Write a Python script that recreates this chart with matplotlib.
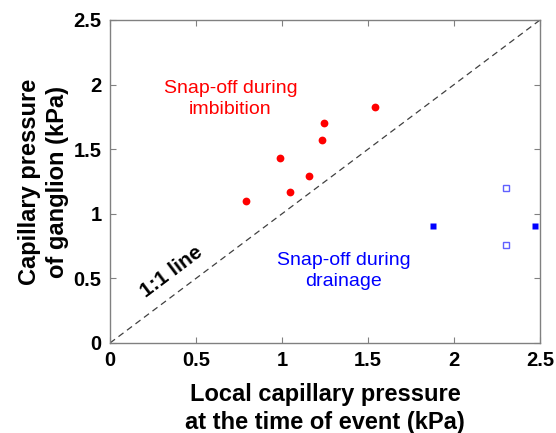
import matplotlib
matplotlib.use("Agg")
import matplotlib.pyplot as plt
import numpy as np

plt.rcParams['font.family'] = ['Liberation Sans', 'DejaVu Sans']

# Data
imb_x = [0.79, 0.99, 1.045, 1.155, 1.235, 1.245, 1.54]
imb_y = [1.10, 1.43, 1.17, 1.295, 1.57, 1.705, 1.83]
dra_fill_x = [1.88, 2.47]
dra_fill_y = [0.905, 0.905]
dra_open_x = [2.305, 2.305]
dra_open_y = [1.20, 0.76]
line_vals = [0, 2.5]
ticks = [0, 0.5, 1, 1.5, 2, 2.5]
tick_labels = ['0', '0.5', '1', '1.5', '2', '2.5']

fig = plt.figure(figsize=(5.56, 4.33), dpi=100)
ax = fig.add_axes([110/556, 1-343/433, 430/556, 323/433])

ax.plot(line_vals, line_vals, '--', color='#404040', lw=0.9, dashes=(5, 3.5))
ax.plot(imb_x, imb_y, 'o', color='#ff0000', ms=5.6, mec='none')
ax.plot(dra_fill_x, dra_fill_y, 's', color='#0000ff', ms=4.4, mec='none')
ax.plot(dra_open_x, dra_open_y, 's', mfc='white', mec='#6060ff', ms=4.4, mew=1.0)

ax.set_xlim(0, 2.5)
ax.set_ylim(0, 2.5)
ax.set_xticks(ticks)
ax.set_xticklabels(tick_labels, fontsize=14.5, fontweight='bold')
ax.set_yticks(ticks)
ax.set_yticklabels(tick_labels, fontsize=14.5, fontweight='bold')
ax.tick_params(direction='in', length=4, width=0.8, color='#808080',
               top=True, right=True, pad=6)
for s in ax.spines.values():
    s.set_color('#808080')
    s.set_linewidth(1.0)

ax.set_xlabel('Local capillary pressure\nat the time of event (kPa)',
              fontsize=17, fontweight='bold', labelpad=9, linespacing=1.3)
ax.set_ylabel('Capillary pressure\nof ganglion (kPa)',
              fontsize=17, fontweight='bold', labelpad=3, linespacing=1.3)

ax.text(0.70, 1.89, 'Snap-off during\nimbibition', color='#ff0000',
        fontsize=14, ha='center', va='center', linespacing=1.3)
ax.text(1.36, 0.56, 'Snap-off during\ndrainage', color='#0000ff',
        fontsize=14, ha='center', va='center', linespacing=1.3)
ax.text(0.36, 0.55, '1:1 line', color='black', fontsize=15, fontweight='bold',
        ha='center', va='center', rotation=37, rotation_mode='anchor')

fig.savefig('out.png', dpi=100)
